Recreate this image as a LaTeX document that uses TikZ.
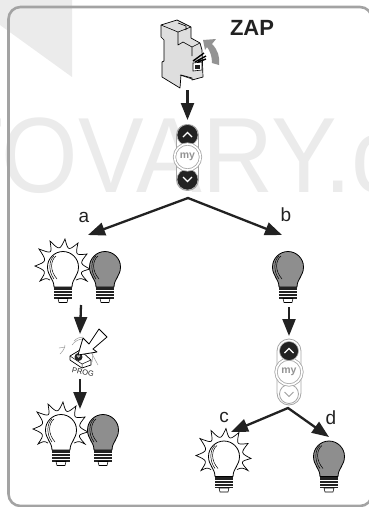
\documentclass[tikz,border=0pt]{standalone}
\usepackage{fontspec}
\setmainfont{Liberation Sans}
\usetikzlibrary{arrows.meta}
\definecolor{wm}{HTML}{EBEBEB}
\definecolor{frameg}{HTML}{A3A3A3}
\definecolor{bulbg}{HTML}{8E8E8E}
\definecolor{ink}{HTML}{222222}
\definecolor{boxg}{HTML}{DEDEDE}
\tikzset{
 flow/.style={draw=ink,line width=2.3pt,-{Triangle[width=13pt,length=17pt]}},
 lbl/.style={font=\fontsize{19}{19}\selectfont,text=ink,inner sep=0pt},
 outl/.style={draw=black,line width=0.8pt,line join=round},
 btnon/.style={circle,fill=ink,draw=gray!60,line width=0.6pt,minimum size=21pt,inner sep=0pt},
 btnoff/.style={circle,fill=white,draw=gray!70,line width=0.8pt,minimum size=20pt,inner sep=0pt},
 btnmy/.style={circle,fill=white,draw=gray!70,line width=0.8pt,double=white,double distance=1.6pt,minimum size=26pt,inner sep=0pt,text=gray!85,font=\fontsize{10.5}{10.5}\selectfont\bfseries},
 pics/bulbshape/.style={code={
   \path[outl,fill=#1] (-9,20) .. controls (-9,12) and (-15.5,9) .. (-15.5,0)
     .. controls (-15.5,-9) and (-8,-15.5) .. (0,-15.5)
     .. controls (8,-15.5) and (15.5,-9) .. (15.5,0)
     .. controls (15.5,9) and (9,12) .. (9,20) -- cycle;
   \draw[black,line width=0.5pt] (-6,12) .. controls (-13,4) and (-13,-6) .. (-7,-11);
   \draw[black,line width=0.5pt] (-9,12) .. controls (-15,4) and (-14,-7) .. (-9,-11);
   \fill[ink] (-9,20) rectangle (9,31.5);
   \foreach \yy in {23.5,26.5,29.5}{\draw[white,line width=0.6pt] (-9,\yy) -- (9,\yy);}
   \path[outl,fill=white,line width=0.6pt] (-5,31.5) -- (5,31.5) -- (4,35.5) -- (-4,35.5) -- cycle;
 }},
 pics/rays/.style={code={
   \draw[black,line width=0.7pt,line join=miter]
     (-13,13) .. controls (-17,11) .. (-23,14) .. controls (-16.4,4.2) .. (-28,-1)
     .. controls (-15.9,-5.7) .. (-24,-18) .. controls (-10.9,-13) .. (-13,-26)
     .. controls (-3.4,-16.5) .. (2,-28) .. controls (5.2,-16.1) .. (15,-24)
     .. controls (12.4,-11.7) .. (24,-13) .. controls (16.5,-3.5) .. (27,2)
     .. controls (16.1,5) .. (24,14) .. controls (18,11) .. (13,13);
 }}
}
\begin{document}
\begin{tikzpicture}[x=1pt,y=-1pt]
\useasboundingbox (0,0) rectangle (369,507);
\clip (0,0) rectangle (369,507);
% watermark
\fill[wm] (0,0) -- (72,0) -- (72,77) -- (0,25) -- cycle;
\node[anchor=base west,inner sep=0pt,text=wm,xscale=0.92,font=\fontsize{107}{107}\selectfont] at (-57,192) {TOVARY.c};
% frame
\draw[frameg,line width=2.6pt,rounded corners=12pt] (8.5,7) rectangle (372,506);
% ZAP
\node[inner sep=0pt,text=ink,font=\fontsize{22}{22}\selectfont\bfseries] (zap) at (252,27.5) {ZAP};
% breaker
\coordinate (breaker) at (187.5,90);
\path[outl,fill=boxg,line width=0.7pt] (161,25) -- (177,20) -- (191,27) -- (191,38) -- (200,43) -- (202,50) -- (203,77) -- (192,80) -- (192,78) -- (181,75) -- (180,88) -- (162,77) -- (162,62) -- (164,61) -- (164,40) -- (161,37) -- cycle;
\draw[black,line width=0.6pt,line join=round] (161,25) -- (178,32) -- (191,27) (178,32) -- (178,45) -- (183,42) -- (192,47) -- (200,43) (178,23) -- (186,26) -- (186,30) (192,47) -- (192,56) (180,75) -- (192,79);
\draw[black,line width=0.6pt,fill=white] (193,63) -- (202,62) -- (202,70) -- (193,71) -- cycle;
\fill[ink] (195,64.5) rectangle (200,68.5);
\draw[black,line width=1.4pt] (193,61) -- (204,53) (195,62) -- (206,56) (198,62) -- (206,59);
% curved arrow
\fill[gray!85] (203,40) -- (216,39) -- (212,44) .. controls (218,50) and (220,57) .. (219,65) -- (212,63) .. controls (212,56) and (210,51) .. (207,47) -- (205,50) -- cycle;
% remote 1
\draw[gray!70,line width=0.8pt,fill=white,rounded corners=10.5pt] (176.5,124.5) rectangle (198.5,190.5);
\node[btnon] (up1) at (187.5,135) {};
\node[btnon] (down1) at (187.5,179.5) {};
\node[btnmy] (my1) at (187.5,157) {my};
\draw[white,line width=1.1pt] (183,137) -- (187.5,132.5) -- (192,137);
\draw[white,line width=1.1pt] (183,177) -- (187.5,181.5) -- (192,177);
% left column
\pic at (63,267) {rays};
\pic at (63,267) {bulbshape=white};
\pic at (105,267) {bulbshape=bulbg};
\coordinate (lit1) at (81,305);
% prog
\draw[gray!80,line width=0.5pt] (60,354) .. controls (63,351) and (65,348) .. (65,345) (59,348) -- (65,347);
\draw[gray!80,line width=0.5pt] (72,345) .. controls (75,341) and (79,339) .. (83,339) (74,341) .. controls (77,338) and (80,337) .. (83,337);
\draw[gray!80,line width=0.5pt] (91,352) -- (98,365) (93,352) -- (92,362);
\path[outl,fill=white,line width=0.7pt] (70,356) -- (80,350) -- (91,360) -- (91,365) -- (82,368) -- (70,360) -- cycle;
\draw[black,line width=0.5pt] (70,356) -- (82,364) -- (91,360) (82,364) -- (82,368);
\fill[ink] (78.5,357) circle (4pt);
\fill[gray!60] (78.5,356) circle (1.8pt);
\path[outl,fill=white,line width=0.8pt] (78,355) -- (83,338) -- (89,344) -- (99,329) -- (107,337) -- (93,349) -- (97,352) -- cycle;
\node[inner sep=0pt,text=ink,rotate=-12,font=\fontsize{7.5}{7.5}\selectfont] (prog) at (83,372) {PROG};
\coordinate (progtop) at (80,334);
\coordinate (progbot) at (80,379);
\pic at (61,430) {rays};
\pic at (61,430) {bulbshape=white};
\pic at (103,430) {bulbshape=bulbg};
\coordinate (lit2) at (80,409);
% right column
\pic at (288,267) {bulbshape=bulbg};
\coordinate (dk1) at (289,307);
\draw[gray!70,line width=0.8pt,fill=white,rounded corners=12pt] (277,339) rectangle (301,405);
\node[btnoff,minimum size=19pt] (down2) at (289,394) {};
\node[btnmy] (my2) at (289,372) {my};
\node[btnon,minimum size=19pt] (up2) at (289,351) {};
\draw[white,line width=1.1pt] (284.5,353) -- (289,348.5) -- (293.5,353);
\draw[gray!75,line width=0.8pt] (284.5,392) -- (289,396.5) -- (293.5,392);
\coordinate (rtop) at (289,336);
\pic at (224,456.5) {rays};
\pic at (224,456.5) {bulbshape=white};
\pic at (329,456.5) {bulbshape=bulbg};
% branch points
\coordinate (fork1) at (188,198);
\coordinate (tipa) at (88,235);
\coordinate (tipb) at (282,235);
\coordinate (fork2) at (288,408);
\coordinate (tipc) at (231,432);
\coordinate (tipd) at (329,437);
\coordinate (rtop2) at (187.5,120);
% arrows
\draw[flow] (breaker) -- (rtop2);
\draw[flow,shorten <=-0.5pt] (fork1) -- (tipa);
\draw[flow,shorten <=-0.5pt] (fork1) -- (tipb);
\draw[flow] (lit1) -- (progtop);
\draw[flow] (progbot) -- (lit2);
\draw[flow] (dk1) -- (rtop);
\draw[flow,shorten <=-0.5pt] (fork2) -- (tipc);
\draw[flow,shorten <=-0.5pt] (fork2) -- (tipd);
% labels
\node[lbl] (la) at (84,217) {a};
\node[lbl] (lb) at (286,215) {b};
\node[lbl] (lc) at (224,417) {c};
\node[lbl] (ld) at (331,418) {d};
\end{tikzpicture}
\end{document}
